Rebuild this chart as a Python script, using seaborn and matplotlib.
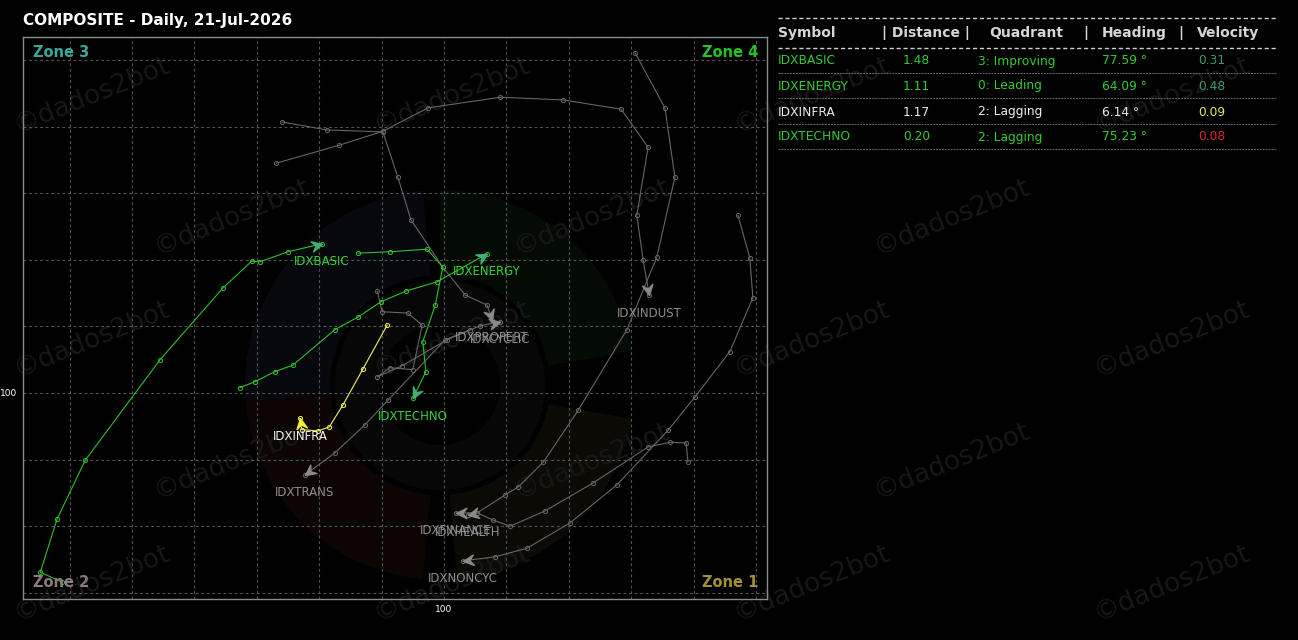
import numpy as np
import pandas as pd
import matplotlib
matplotlib.use("Agg")
import matplotlib.pyplot as plt
from matplotlib.markers import MarkerStyle
from matplotlib.path import Path
from matplotlib.patches import Wedge
from matplotlib.transforms import Affine2D, IdentityTransform
import seaborn as sns

# ---------------- data ----------------
TITLE = "COMPOSITE - Daily, 21-Jul-2026"

basic_x = [93.88, 93.53, 93.80, 94.25, 95.45, 96.46, 96.92, 97.05, 97.50, 98.04]
basic_y = [97.16, 97.31, 98.11, 98.99, 100.50, 101.58, 101.98, 101.97, 102.12, 102.24]

energy_x = [96.73, 96.97, 97.29, 97.58, 98.25, 98.62, 98.99, 99.39, 99.89, 100.69]
energy_y = [100.08, 100.17, 100.32, 100.42, 100.95, 101.14, 101.37, 101.53, 101.67, 102.09]

techno_x = [98.62, 99.13, 99.73, 99.98, 99.86, 99.66, 99.71, 99.50]
techno_y = [102.10, 102.12, 102.16, 101.89, 101.32, 100.77, 100.32, 99.92]

infra_x = [99.09, 98.70, 98.38, 98.16, 97.98, 97.72, 97.69]
infra_y = [101.02, 100.36, 99.82, 99.49, 99.43, 99.45, 99.62]

indust_x = [97.31, 98.32, 99.02, 99.74, 100.90, 101.91, 102.84, 103.27, 103.09, 103.19, 103.29]
indust_y = [103.45, 103.72, 103.93, 104.28, 104.44, 104.40, 104.26, 103.69, 102.67, 102.00, 101.47]

propert_x = [97.40, 98.12, 99.02, 99.26, 99.47, 99.98, 100.34, 100.69, 100.77]
propert_y = [104.07, 103.95, 103.92, 103.24, 102.60, 101.89, 101.47, 101.32, 101.10]

cyclic_x = [98.93, 99.01, 99.42, 99.65, 99.50, 99.13, 98.93, 99.33, 100.05, 100.58, 100.90]
cyclic_y = [101.53, 101.22, 101.20, 101.02, 100.35, 100.38, 100.24, 100.41, 100.80, 101.01, 101.07]

trans_x = [100.42, 100.02, 99.10, 98.73, 98.25, 97.77]
trans_y = [100.95, 100.80, 99.89, 99.52, 99.10, 98.77]

health_x = [103.06, 103.54, 103.70, 103.41, 102.93, 102.15, 101.59, 101.19, 100.98, 100.53, 100.38]
health_y = [105.11, 104.28, 103.24, 102.04, 100.95, 99.74, 98.96, 98.59, 98.47, 98.20, 98.17]

finance_x = [103.91, 103.88, 103.62, 103.27, 102.39, 101.62, 101.06, 100.79, 100.53, 100.19]
finance_y = [98.96, 99.25, 99.26, 99.19, 98.65, 98.23, 98.00, 98.09, 98.20, 98.20]

noncyc_x = [104.71, 104.90, 104.95, 104.58, 104.02, 103.59, 102.77, 102.02, 101.33, 100.82, 100.30]
noncyc_y = [102.67, 102.03, 101.43, 100.62, 99.94, 99.44, 98.62, 98.05, 97.67, 97.54, 97.48]

series_names = ["IDXINDUST", "IDXPROPERT", "IDXCYCLIC", "IDXTRANS", "IDXHEALTH",
                "IDXFINANCE", "IDXNONCYC", "IDXENERGY", "IDXBASIC", "IDXTECHNO", "IDXINFRA"]
series_x = [indust_x, propert_x, cyclic_x, trans_x, health_x, finance_x, noncyc_x,
            energy_x, basic_x, techno_x, infra_x]
series_y = [indust_y, propert_y, cyclic_y, trans_y, health_y, finance_y, noncyc_y,
            energy_y, basic_y, techno_y, infra_y]

GREEN = "#2fbf2f"
GREY_LINE = "#666666"
GREY_TXT = "#8e8e8e"
series_line_colors = {"IDXENERGY": GREEN, "IDXBASIC": GREEN, "IDXTECHNO": GREEN, "IDXINFRA": "#f0f060"}
series_head_colors = {"IDXENERGY": "#3fb070", "IDXBASIC": "#3fb070", "IDXTECHNO": "#3fb070", "IDXINFRA": "#f0f030"}
series_text_colors = {"IDXENERGY": "#33d633", "IDXBASIC": "#33d633", "IDXTECHNO": "#33d633", "IDXINFRA": "#f2f2f2"}

table_symbols = ["IDXBASIC", "IDXENERGY", "IDXINFRA", "IDXTECHNO"]
table_distance = ["1.48", "1.11", "1.17", "0.20"]
table_quadrant = ["3: Improving", "0: Leading", "2: Lagging", "2: Lagging"]
table_heading = ["77.59 °", "64.09 °", "6.14 °", "75.23 °"]
table_velocity = ["0.31", "0.48", "0.09", "0.08"]
row_colors = ["#33cc33", "#33cc33", "#eeeeee", "#33cc33"]
vel_colors = ["#3f9a66", "#3f9a66", "#e8e860", "#d42a2a"]

zone_names = ["Zone 3", "Zone 4", "Zone 2", "Zone 1"]
zone_colors = ["#3aa89a", "#22c322", "#8c7a7e", "#a39232"]

# ---------------- figure ----------------
sns.set_theme(style="dark")
plt.rcParams["font.family"] = ["DejaVu Sans"]

W, H = 1298, 640
fig = plt.figure(figsize=(W / 100, H / 100), dpi=100, facecolor="black")

def fx(px):
    return px / W

def fy(py):
    return 1 - py / H

# very faint background logo ring (decoration)
logo_cx, logo_cy = 440, 640 - 385
for t1, t2, col in [(95, 185, "#07070e"), (185, 265, "#0d0404"),
                    (275, 350, "#0b0a05"), (10, 90, "#040b05")]:
    fig.patches.append(Wedge((logo_cx, logo_cy), 195, t1, t2, width=85,
                             transform=IdentityTransform(), facecolor=col,
                             edgecolor="none", zorder=0))
fig.patches.append(Wedge((logo_cx, logo_cy), 105, 0, 360, width=45,
                         transform=IdentityTransform(), facecolor="#070707",
                         edgecolor="none", zorder=0))

# watermark (kept fully inside the canvas)
for r, yy in enumerate(range(95, 640, 122)):
    off = 0 if r % 2 == 0 else 140
    for xx in range(10 + off, 1298, 360):
        if xx + 150 > 1298 or yy - 30 < 0 or yy + 30 > 640:
            continue
        fig.text(fx(xx), fy(yy), "©dados2bot", color="#181818", fontsize=19,
                 rotation=22, ha="left", va="center", zorder=0.5)

ax = fig.add_axes([fx(23), fy(599), fx(767) - fx(23), fy(37) - fy(599)])
ax.set_facecolor("none")
ax.set_zorder(1)

xmin, xmax = 93.253, 105.176
ymin, ymax = 96.907, 105.345

# arrow marker (stealth)
arrow_path = Path([(0, 0), (-1, 0.5), (-0.62, 0), (-1, -0.5), (0, 0)],
                  [Path.MOVETO, Path.LINETO, Path.LINETO, Path.LINETO, Path.CLOSEPOLY])

for name, xs, ys in zip(series_names, series_x, series_y):
    lc = series_line_colors.get(name, GREY_LINE)
    z = 3 if name in series_line_colors else 2
    df = pd.DataFrame({"x": xs, "y": ys})
    sns.lineplot(data=df, x="x", y="y", sort=False, estimator=None, ax=ax,
                 color=lc, linewidth=0.8, marker="o", markersize=3,
                 markerfacecolor="none", markeredgecolor=lc, markeredgewidth=0.7,
                 zorder=z, legend=False)

ax.set_xlim(xmin, xmax)
ax.set_ylim(ymin, ymax)
ax.set_xlabel("")
ax.set_ylabel("")

for name, xs, ys in zip(series_names, series_x, series_y):
    hc = series_head_colors.get(name, "#8a8a8a")
    tc = series_text_colors.get(name, GREY_TXT)
    z = 3 if name in series_line_colors else 2
    p1 = ax.transData.transform((xs[-2], ys[-2]))
    p2 = ax.transData.transform((xs[-1], ys[-1]))
    ang = np.degrees(np.arctan2(p2[1] - p1[1], p2[0] - p1[0]))
    mk = MarkerStyle(arrow_path, transform=Affine2D().rotate_deg(ang))
    ax.plot([xs[-1]], [ys[-1]], marker=mk, markersize=15, color=hc, linestyle="none",
            zorder=z + 1)
    ax.annotate(name, (xs[-1], ys[-1]), xytext=(0, -13), textcoords="offset points",
                ha="center", va="center", color=tc, fontsize=8.5, zorder=z + 1)

xt = list(range(94, 106))
yt = list(range(97, 106))
ax.set_xticks(xt)
ax.set_yticks(yt)
ax.set_xticklabels(["100" if v == 100 else "" for v in xt], color="white", fontsize=6.5)
ax.set_yticklabels(["100" if v == 100 else "" for v in yt], color="white", fontsize=6.5)
ax.tick_params(length=0, pad=4)
ax.grid(True, color="#555555", linestyle=(0, (2.5, 2.5)), linewidth=0.8)
for s in ax.spines.values():
    s.set_color("#8a8a8a")
    s.set_linewidth(1.0)

# zone labels
ax.text(0.014, 0.972, zone_names[0], transform=ax.transAxes, color=zone_colors[0],
        fontsize=10.5, fontweight="bold", ha="left", va="center")
ax.text(0.988, 0.972, zone_names[1], transform=ax.transAxes, color=zone_colors[1],
        fontsize=10.5, fontweight="bold", ha="right", va="center")
ax.text(0.014, 0.03, zone_names[2], transform=ax.transAxes, color=zone_colors[2],
        fontsize=10.5, fontweight="bold", ha="left", va="center")
ax.text(0.988, 0.03, zone_names[3], transform=ax.transAxes, color=zone_colors[3],
        fontsize=10.5, fontweight="bold", ha="right", va="center")

# title
fig.text(fx(23), fy(20), TITLE, color="white", fontsize=11, fontweight="bold",
         ha="left", va="center")

# ---------------- table ----------------
tx0, tx1 = 778, 1276
fig.add_artist(plt.Line2D([fx(tx0), fx(tx1)], [fy(18), fy(18)], color="#d0d0d0",
                          linewidth=1.0, linestyle=(0, (3, 2))))
fig.add_artist(plt.Line2D([fx(tx0), fx(tx1)], [fy(48), fy(48)], color="#d0d0d0",
                          linewidth=1.0, linestyle=(0, (3, 2))))
hdr_c = "#d6d6d6"
hdr = [(778, "Symbol"), (882, "| Distance |"), (989, "Quadrant"), (1083, "|"),
       (1102, "Heading"), (1178, "|"), (1197, "Velocity")]
for hx, htxt in hdr:
    fig.text(fx(hx), fy(33), htxt, color=hdr_c, fontsize=10, fontweight="bold",
             ha="left", va="center")

row_y = [61, 86, 112, 137]
sep_y = [73, 98, 124, 149]
for i in range(len(table_symbols)):
    yy = row_y[i]
    c = row_colors[i]
    fig.text(fx(778), fy(yy), table_symbols[i], color=c, fontsize=8.8, ha="left", va="center")
    fig.text(fx(903), fy(yy), table_distance[i], color=c, fontsize=8.8, ha="left", va="center")
    fig.text(fx(978), fy(yy), table_quadrant[i], color=c, fontsize=8.8, ha="left", va="center")
    fig.text(fx(1102), fy(yy), table_heading[i], color=c, fontsize=8.8, ha="left", va="center")
    fig.text(fx(1198), fy(yy), table_velocity[i], color=vel_colors[i], fontsize=8.8,
             ha="left", va="center")
    fig.add_artist(plt.Line2D([fx(tx0), fx(tx1)], [fy(sep_y[i]), fy(sep_y[i])],
                              color="#6a6a6a", linewidth=0.7, linestyle=(0, (2, 1))))

fig.savefig("out.png", dpi=100, facecolor="black")
